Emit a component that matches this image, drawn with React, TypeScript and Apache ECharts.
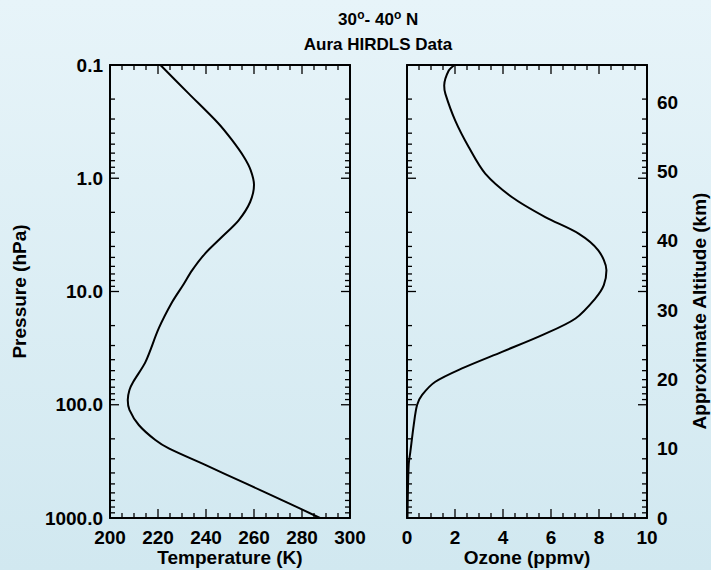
import React, { useEffect, useRef } from "react";
import * as echarts from "echarts";

// Temperature profile (K) vs pressure (hPa)
const tempPressure = [0.1, 0.177, 0.325, 0.459, 0.649, 0.847, 1.144, 1.62, 2.35, 3.3, 4.6, 6.5, 8.8, 12.4, 21.2, 41.8, 62.7, 74.1, 91, 111, 151, 205, 243, 340, 493, 716, 1000];
const temperature = [221, 232.6, 245, 250.8, 255.8, 258.6, 260, 258.4, 253.6, 246.6, 239.7, 234.2, 230.4, 225.9, 220.3, 214.8, 209.7, 208.1, 207.4, 208.1, 212, 218.9, 224.5, 239.7, 256.3, 273, 287.5];

// Ozone profile (ppmv) vs pressure (hPa)
const ozonePressure = [0.1, 0.112, 0.152, 0.18, 0.31, 0.53, 0.91, 1.47, 2.2, 3.08, 4.33, 6.5, 8.8, 11.5, 17.3, 24.3, 34.1, 47.8, 62.7, 82, 100.7, 151, 260, 340, 716, 1000];
const ozone = [1.99, 1.74, 1.55, 1.6, 2.01, 2.57, 3.26, 4.38, 5.76, 7.15, 7.97, 8.31, 8.2, 7.85, 7.02, 5.63, 3.96, 2.29, 1.18, 0.63, 0.42, 0.28, 0.14, 0.07, 0.03, 0.02];

// Tick values
const pressureMajor = [0.1, 1, 10, 100, 1000];
const pressureMinor = [0.2, 0.3, 0.4, 0.5, 0.6, 0.7, 0.8, 0.9, 2, 3, 4, 5, 6, 7, 8, 9, 20, 30, 40, 50, 60, 70, 80, 90, 200, 300, 400, 500, 600, 700, 800, 900];
const tempMajor = [200, 220, 240, 260, 280, 300];
const tempMinor = [205, 210, 215, 225, 230, 235, 245, 250, 255, 265, 270, 275, 285, 290, 295];
const ozoneMajor = [0, 2, 4, 6, 8, 10];
const ozoneMinor = [0.5, 1, 1.5, 2.5, 3, 3.5, 4.5, 5, 5.5, 6.5, 7, 7.5, 8.5, 9, 9.5];
const altitudeLabels = [0, 10, 20, 30, 40, 50, 60];

const FONT = '"Liberation Sans", Arial, Helvetica, sans-serif';
const LABEL = { fontFamily: FONT, fontWeight: "bold" as const, fontSize: 19, color: "#000" };
const MAJOR_LEN = 9;
const MINOR_LEN = 5;
const TICK_STYLE = { stroke: "#000", lineWidth: 1.3 };

function logAxis(gridIndex: number, position: string, extra: any = {}) {
  return {
    type: "log",
    logBase: 10,
    gridIndex,
    position,
    min: 0.1,
    max: 1000,
    inverse: true,
    axisLine: { show: true, onZero: false, lineStyle: { color: "#000", width: 2 } },
    axisTick: { show: false },
    minorTick: { show: false },
    axisLabel: { show: false },
    splitLine: { show: false },
    ...extra,
  };
}

function valAxis(gridIndex: number, position: string, min: number, max: number, interval: number, labels: boolean) {
  return {
    type: "value",
    gridIndex,
    position,
    min,
    max,
    interval,
    axisLine: { show: true, onZero: false, lineStyle: { color: "#000", width: 2 } },
    axisTick: { show: false },
    minorTick: { show: false },
    axisLabel: labels ? { ...LABEL, margin: 10 } : { show: false },
    splitLine: { show: false },
  };
}

// Ticks on left & right edges of a grid, at pressure levels
function yTickSeries(xIdx: number, yIdx: number, xMin: number, xMax: number) {
  const rows = [...pressureMajor.map((p) => [p, MAJOR_LEN]), ...pressureMinor.map((p) => [p, MINOR_LEN])];
  return {
    type: "custom",
    xAxisIndex: xIdx,
    yAxisIndex: yIdx,
    clip: false,
    silent: true,
    encode: { x: 1, y: 0 },
    data: rows,
    renderItem: (params: any, api: any) => {
      const p = api.value(0);
      const len = api.value(1);
      const a = api.coord([xMin, p]);
      const b = api.coord([xMax, p]);
      return {
        type: "group",
        children: [
          { type: "line", shape: { x1: a[0], y1: a[1], x2: a[0] + len, y2: a[1] }, style: TICK_STYLE },
          { type: "line", shape: { x1: b[0], y1: b[1], x2: b[0] - len, y2: b[1] }, style: TICK_STYLE },
        ],
      };
    },
  };
}

// Ticks on top & bottom edges of a grid
function xTickSeries(xIdx: number, yIdx: number, major: number[], minor: number[]) {
  const rows = [...major.map((v) => [v, MAJOR_LEN]), ...minor.map((v) => [v, MINOR_LEN])];
  return {
    type: "custom",
    xAxisIndex: xIdx,
    yAxisIndex: yIdx,
    clip: false,
    silent: true,
    encode: { x: 0, y: 1 },
    data: rows,
    renderItem: (params: any, api: any) => {
      const v = api.value(0);
      const len = api.value(1);
      const top = api.coord([v, 0.1]);
      const bot = api.coord([v, 1000]);
      return {
        type: "group",
        children: [
          { type: "line", shape: { x1: top[0], y1: top[1], x2: top[0], y2: top[1] + len }, style: TICK_STYLE },
          { type: "line", shape: { x1: bot[0], y1: bot[1], x2: bot[0], y2: bot[1] - len }, style: TICK_STYLE },
        ],
      };
    },
  };
}

function txt(text: string, x: number, y: number, size: number, align = "center", rotation = 0) {
  return {
    type: "text",
    x,
    y,
    rotation,
    style: { text, align, verticalAlign: "middle", fontFamily: FONT, fontWeight: "bold", fontSize: size, fill: "#000" },
  };
}

export default function App() {
  const ref = useRef<HTMLDivElement>(null);
  useEffect(() => {
    if (!ref.current) return;
    const chart = echarts.init(ref.current, null, { renderer: "svg" });
    const nameStyle = { fontFamily: FONT, fontWeight: "bold", fontSize: 19, color: "#000" };
    chart.setOption({
      animation: false,
      backgroundColor: {
        type: "linear", x: 0, y: 0, x2: 0, y2: 1,
        colorStops: [
          { offset: 0, color: "#e7f4f9" },
          { offset: 1, color: "#d1e8f0" },
        ],
      },
      graphic: [
        // title line 1: 30° - 40° N with raised "o"
        txt("30", 338, 19, 17, "left"),
        txt("o", 357.2, 14.5, 12, "left"),
        txt("- 40", 364.6, 19, 17, "left"),
        txt("o", 393.9, 14.5, 12, "left"),
        txt(" N", 401.2, 19, 17, "left"),
        txt("Aura HIRDLS Data", 378, 44, 17),
        txt("Temperature (K)", 230, 557, 19),
        txt("Ozone (ppmv)", 527, 557, 19),
        txt("Approximate Altitude (km)", 699, 311, 19, "center", Math.PI / 2),
      ],
      grid: [
        { left: 110, top: 65, width: 240, height: 453, containLabel: false, outerBoundsMode: "none" },
        { left: 407, top: 65, width: 240, height: 453, containLabel: false, outerBoundsMode: "none" },
      ],
      xAxis: [
        valAxis(0, "bottom", 200, 300, 20, true),
        valAxis(0, "top", 200, 300, 20, false),
        valAxis(1, "bottom", 0, 10, 2, true),
        valAxis(1, "top", 0, 10, 2, false),
      ],
      yAxis: [
        logAxis(0, "left", {
          axisLabel: { ...LABEL, margin: 7, customValues: pressureMajor, formatter: (v: number) => Number(v).toFixed(1) },
          name: "Pressure (hPa)", nameLocation: "middle", nameRotate: 90, nameGap: 81, nameTextStyle: nameStyle,
        }),
        logAxis(0, "right"),
        logAxis(1, "left"),
        logAxis(1, "right"),
        {
          type: "value",
          gridIndex: 1,
          position: "right",
          min: 0,
          max: 65.4,
          axisLine: { show: false, onZero: false },
          axisTick: { show: false },
          splitLine: { show: false },
          axisLabel: { ...LABEL, margin: 10, customValues: altitudeLabels },
        },
      ],
      series: [
        {
          type: "line",
          xAxisIndex: 0,
          yAxisIndex: 0,
          data: temperature.map((t, i) => [t, tempPressure[i]]),
          showSymbol: false,
          smooth: 0.3,
          lineStyle: { color: "#000", width: 2 },
        },
        {
          type: "line",
          xAxisIndex: 2,
          yAxisIndex: 2,
          data: ozone.map((o, i) => [o, ozonePressure[i]]),
          showSymbol: false,
          smooth: 0.3,
          lineStyle: { color: "#000", width: 2 },
        },
        yTickSeries(0, 0, 200, 300),
        xTickSeries(0, 0, tempMajor, tempMinor),
        yTickSeries(2, 2, 0, 10),
        xTickSeries(2, 2, ozoneMajor, ozoneMinor),
      ],
    });
    return () => chart.dispose();
  }, []);
  return <div ref={ref} style={{ position: "absolute", left: 0, top: 0, width: 711, height: 570 }} />;
}
